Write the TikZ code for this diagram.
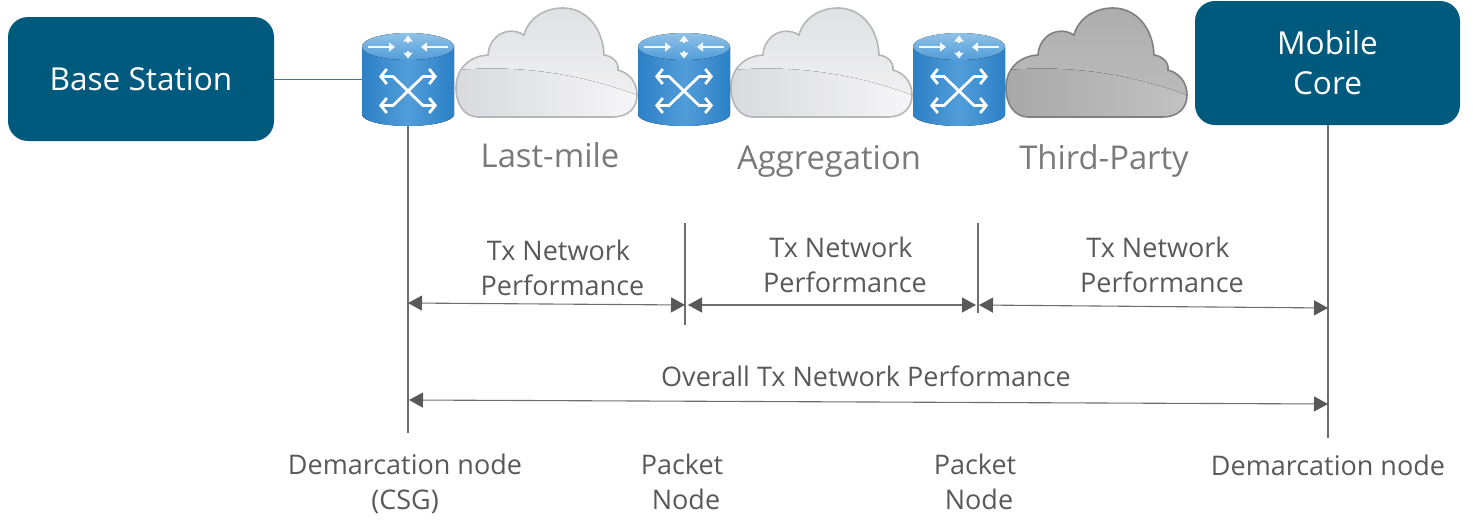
\documentclass[tikz,border=0pt]{standalone}
\usepackage{fontspec}
\setmainfont{Open Sans}
\usetikzlibrary{arrows.meta,positioning,calc}
\definecolor{coreblue}{HTML}{005A7D}
\definecolor{routerdark}{HTML}{2C80C6}
\definecolor{routerlight}{HTML}{519DD9}
\definecolor{routertop}{HTML}{8FC1E6}
\definecolor{textgray}{HTML}{595959}
\definecolor{rulegray}{HTML}{6E6E6E}
\definecolor{cloudgray}{HTML}{7A7A7A}
\definecolor{palea}{HTML}{E0E1E3}
\definecolor{paleb}{HTML}{F0F0F1}
\definecolor{palec}{HTML}{D9DADD}
\definecolor{paled}{HTML}{F6F6F8}
\definecolor{paleline}{HTML}{B5B6BA}
\definecolor{darka}{HTML}{ADADAD}
\definecolor{darkb}{HTML}{BBBBBB}
\definecolor{darkc}{HTML}{A8A8A8}
\definecolor{darkd}{HTML}{C2C2C2}
\definecolor{darkline}{HTML}{808080}
% outline of a cloud, measured from its top left corner
\newcommand{\cloudoutline}{(22,109) -- (157,109) .. controls (172,109) and (181,100) .. (181,87) .. controls (181,74) and (173,65) .. (162,62) .. controls (163,54) and (156,48) .. (148,47) .. controls (147,20) and (130,0) .. (107,0) .. controls (88,0) and (72,11) .. (68,27) .. controls (52,17) and (33,28) .. (32,47) .. controls (14,48) and (0,60) .. (0,80) .. controls (0,97) and (9,109) .. (22,109) -- cycle}
\begin{document}
\begin{tikzpicture}[x=0.5pt,y=-0.5pt,
  endbox/.style={draw=none, fill=coreblue, rounded corners=10pt, text=white, font=\fontsize{15.8}{20}\selectfont, align=center},
  routerbox/.style={minimum width=46pt, minimum height=46.5pt, inner sep=0pt},
  cloudlbl/.style={text=cloudgray, font=\fontsize{16.4}{19}\selectfont},
  lbl/.style={text=textgray, font=\fontsize{13.5}{17.5}\selectfont, align=center},
  rule/.style={draw=rulegray, line width=0.55pt},
  arrow/.style={draw=rulegray, line width=0.55pt, {Triangle[length=7pt,width=7.5pt,color=textgray]}-{Triangle[length=7pt,width=7.5pt,color=textgray]}},
  whitetip/.style={white, line width=1.4pt, {Straight Barb[length=3pt,width=7.5pt]}-{Straight Barb[length=3pt,width=7.5pt]}},
  toptip/.style={white!90!routertop, line width=0.9pt, -{Triangle[length=3pt,width=4.5pt]}},
  pics/router/.style={code={
    \fill[left color=routerdark, right color=routerdark, middle color=routerlight] (-46,-33) -- (-46,35) arc[start angle=180, end angle=0, x radius=46, y radius=11.5] -- (46,-33) -- cycle;
    \fill[top color=routertop, bottom color=routerlight] (0,-33) ellipse[x radius=46, y radius=13.5];
    % four arrows on the lid
    \draw[toptip] (-40,-32.5) -- (-13,-32.5);
    \draw[toptip] (40,-32.5) -- (13,-32.5);
    \draw[toptip] (0,-37) -- (0,-44);
    \draw[toptip] (0,-29) -- (0,-21);
    % crossed arrows on the side
    \draw[whitetip] (-29,-3) -- (-15,-3) -- (15,26) -- (29,26);
    \draw[whitetip] (29,-3) -- (15,-3) -- (-15,26) -- (-29,26);
  }},
  pics/netcloud/.style n args={5}{code={
    \begin{scope}
      \clip \cloudoutline;
      \fill[shading=axis, shading angle=70, left color=#3, right color=#4] (0,60) rectangle (181,109);
      \fill[top color=#1, bottom color=#2] (0,0) -- (181,0) -- (181,87) .. controls (130,68) and (70,56) .. (0,62) -- cycle;
    \end{scope}
    \draw[#5, line width=0.8pt] \cloudoutline;
  }}
]
\useasboundingbox (0,0) rectangle (1473,530);
% end boxes
\node[endbox, minimum width=133pt, minimum height=62pt] (base) at (141,79) {Base Station};
\node[endbox, minimum width=132.5pt, minimum height=62pt] (core) at (1327.5,63) {Mobile\\Core};
% clouds
\pic at (456,8) {netcloud={palea}{paleb}{palec}{paled}{paleline}};
\pic at (731,8) {netcloud={palea}{paleb}{palec}{paled}{paleline}};
\pic at (1006,8) {netcloud={darka}{darkb}{darkc}{darkd}{darkline}};
% routers
\node[routerbox] (r1) at (408,79.5) {};
\node[routerbox] (r2) at (684,79.5) {};
\node[routerbox] (r3) at (959,79.5) {};
\pic at (r1) {router};
\pic at (r2) {router};
\pic at (r3) {router};
\node[cloudlbl] (lastmile) at (550,155) {Last-mile};
\node[cloudlbl] (aggr) at (829,161) {Aggregation};
\node[cloudlbl] (third) at (1104,161) {Third-Party};
% ends of the vertical rules
\coordinate (leftend) at (408,433);
\coordinate (rightend) at (1328,438);
\coordinate (p1top) at (685,223);
\coordinate (p1bot) at (685,325);
\coordinate (p2top) at (978,223);
\coordinate (p2bot) at (978,313);
\coordinate (a1) at (408,303);
\coordinate (a2) at (685,305);
\coordinate (a3) at (688,305);
\coordinate (a4) at (976,305);
\coordinate (a5) at (979,305);
\coordinate (a6) at (1328,308);
\coordinate (o1) at (409,400);
\coordinate (o2) at (1328,404);
\draw[draw=coreblue!80, line width=0.5pt] (base.east |- r1.west) -- (r1.west);
\draw[rule] (r1.south) -- (leftend);
\draw[rule] (core.south -| rightend) -- (rightend);
\draw[rule] (p1top) -- (p1bot);
\draw[rule] (p2top) -- (p2bot);
\draw[arrow] (a1) -- (a2);
\draw[arrow] (a3) -- (a4);
\draw[arrow] (a5) -- (a6);
\draw[arrow] (o1) -- (o2);
\node[lbl] (tx1) at (562.5,268) {Tx Network\hspace*{4pt}\\Performance};
\node[lbl] (tx2) at (845,265) {Tx Network\hspace*{4pt}\\Performance};
\node[lbl] (tx3) at (1162,265) {Tx Network\hspace*{4pt}\\Performance};
\node[lbl] (overall) at (866,376) {Overall Tx Network Performance};
\node[lbl] (dem1) at (405,484) {Demarcation node\\(CSG)};
\node[lbl] (pk1) at (682,482) {Packet\\\hspace*{4pt}Node};
\node[lbl] (pk2) at (975,482) {Packet\\\hspace*{4pt}Node};
\node[lbl] (dem2) at (1328,465) {Demarcation node};
\end{tikzpicture}
\end{document}
